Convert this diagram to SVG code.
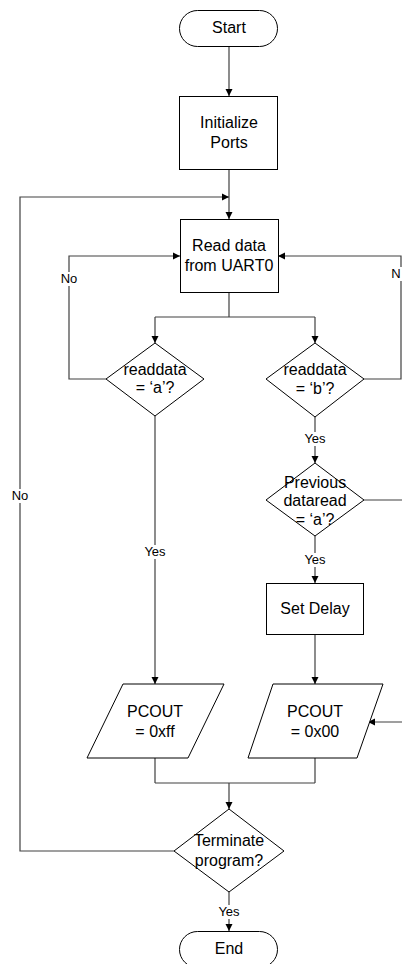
<svg xmlns="http://www.w3.org/2000/svg" width="402" height="964" viewBox="0 0 402 964">
<defs>
<marker id="ah" markerWidth="8" markerHeight="8" refX="7" refY="4" orient="auto" markerUnits="userSpaceOnUse">
<path d="M0,0.5 L7,4 L0,7.5 Z" fill="#000"/>
</marker>
<style>
.n{fill:#fff;stroke:#000;stroke-width:1}
.t{font-family:"Liberation Sans",Arial,sans-serif;font-size:16px;fill:#000;text-anchor:middle}
.c{fill:none;stroke:#404040;stroke-width:1.2}
.a{marker-end:url(#ah)}
.l{font-family:"Liberation Sans",Arial,sans-serif;font-size:13px;fill:#000;text-anchor:middle}
.bg{fill:#fff}
</style>
</defs>
<rect width="402" height="964" fill="#fff"/>
<g id="connectors">
<path class="c a" d="M229,47 V96"/>
<path class="c a" d="M229,170 V219"/>
<path class="c a" d="M174,851 H20 V197 H229"/>
<path class="c" d="M229,293 V317 M155,317 H315"/>
<path class="c a" d="M155,317 V343"/>
<path class="c a" d="M315,317 V343"/>
<path class="c a" d="M106,379 H69 V256 H180"/>
<path class="c a" d="M364,379 H401 V256 H278"/>
<path class="c a" d="M315,417 V463"/>
<path class="c" d="M364,500 H402"/>
<path class="c a" d="M315,536 V583"/>
<path class="c a" d="M315,635 V684"/>
<path class="c a" d="M402,722 H368"/>
<path class="c a" d="M155,416 V684"/>
<path class="c" d="M155,758 V783 M315,758 V783 M155,783 H315"/>
<path class="c a" d="M229,783 V809"/>
<path class="c a" d="M229,892 V931"/>
<rect class="bg" x="58" y="272" width="22" height="14"/>
<text class="l" x="69" y="283">No</text>
<rect class="bg" x="390" y="267" width="12" height="14"/>
<text class="l" x="396" y="278">N</text>
<rect class="bg" x="9" y="489" width="22" height="14"/>
<text class="l" x="20" y="500">No</text>
<rect class="bg" x="142" y="545" width="26" height="14"/>
<text class="l" x="155" y="556">Yes</text>
<rect class="bg" x="302" y="432" width="26" height="14"/>
<text class="l" x="315" y="443">Yes</text>
<rect class="bg" x="302" y="553" width="26" height="14"/>
<text class="l" x="315" y="564">Yes</text>
<rect class="bg" x="216" y="905" width="26" height="14"/>
<text class="l" x="229" y="916">Yes</text>
</g>
<g id="start">
<rect class="n" x="179.5" y="10.5" width="98" height="36" rx="18"/>
<text class="t" x="229" y="33">Start</text>
</g>
<g id="init">
<rect class="n" x="179.5" y="96.5" width="98" height="73"/>
<text class="t" x="229" y="128">Initialize</text>
<text class="t" x="229" y="148">Ports</text>
</g>
<g id="read">
<rect class="n" x="180.5" y="219.5" width="98" height="73"/>
<text class="t" x="229" y="251">Read data</text>
<text class="t" x="229" y="271">from UART0</text>
</g>
<g id="decA">
<polygon class="n" points="155,343 204,379 155,416 106,379"/>
<text class="t" x="155" y="375">readdata</text>
<text class="t" x="155" y="393">= ‘a’?</text>
</g>
<g id="decB">
<polygon class="n" points="315,343 364,379 315,417 266,379"/>
<text class="t" x="315" y="375">readdata</text>
<text class="t" x="315" y="394">= ‘b’?</text>
</g>
<g id="decPrev">
<polygon class="n" points="315,463 364,500 315,536 266,500"/>
<text class="t" x="315" y="488">Previous</text>
<text class="t" x="315" y="506">dataread</text>
<text class="t" x="315" y="525">= ‘a’?</text>
</g>
<g id="delay">
<rect class="n" x="266.5" y="583.5" width="97" height="51"/>
<text class="t" x="315" y="614">Set Delay</text>
</g>
<g id="outA">
<polygon class="n" points="123,684 224,684 188,758 87,758"/>
<text class="t" x="155" y="717">PCOUT</text>
<text class="t" x="155" y="737">= 0xff</text>
</g>
<g id="outB">
<polygon class="n" points="273,684 383,684 357,758 248,758"/>
<text class="t" x="315" y="717">PCOUT</text>
<text class="t" x="315" y="737">= 0x00</text>
</g>
<g id="term">
<polygon class="n" points="229,809 284,851 229,892 174,851"/>
<text class="t" x="229" y="846">Terminate</text>
<text class="t" x="229" y="866">program?</text>
</g>
<g id="end">
<rect class="n" x="179.5" y="931.5" width="98" height="36" rx="18"/>
<text class="t" x="229" y="954">End</text>
</g>
</svg>
